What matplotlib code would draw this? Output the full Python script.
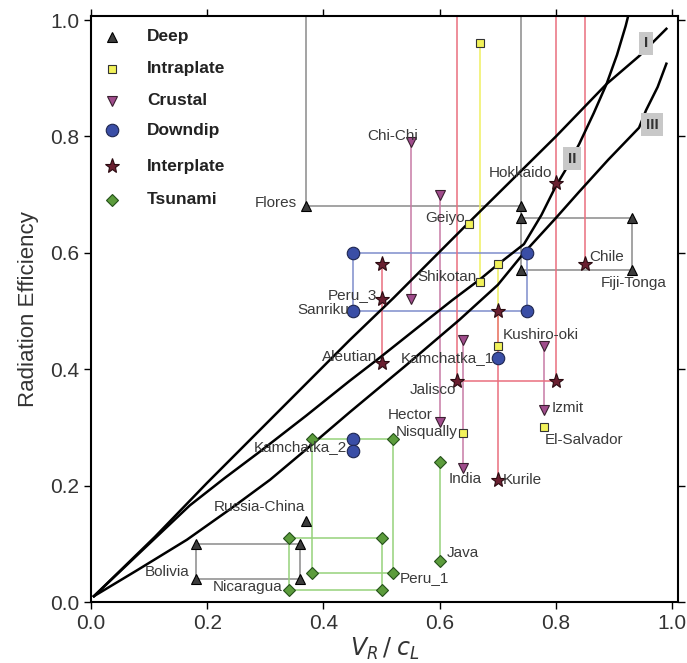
import matplotlib
matplotlib.use("Agg")
import matplotlib.pyplot as plt

plt.rcParams["font.family"] = ["Liberation Sans", "DejaVu Sans"]

TOP = 1.1  # estimates that run above the plot

curve1_x = [0.005, 0.11, 0.2, 0.29, 0.37, 0.445, 0.52, 0.648, 0.80, 0.887, 0.943, 0.99]
curve1_y = [0.01, 0.112, 0.205, 0.295, 0.375, 0.45, 0.522, 0.65, 0.80, 0.89, 0.938, 0.985]
curve2_x = [0.005, 0.10, 0.17, 0.23, 0.29, 0.37, 0.445, 0.497, 0.56, 0.622, 0.67, 0.70, 0.745,
            0.775, 0.80, 0.815, 0.84, 0.865, 0.887, 0.905, 0.92, 0.925]
curve2_y = [0.01, 0.10, 0.166, 0.213, 0.258, 0.32, 0.38, 0.42, 0.47, 0.519, 0.555, 0.58, 0.615,
            0.665, 0.715, 0.74, 0.787, 0.84, 0.89, 0.94, 0.99, 1.01]
curve3_x = [0.005, 0.08, 0.165, 0.24, 0.308, 0.37, 0.445, 0.54, 0.634, 0.70, 0.745,
            0.80, 0.84, 0.89, 0.943, 0.955, 0.975, 0.99]
curve3_y = [0.01, 0.055, 0.107, 0.16, 0.21, 0.262, 0.326, 0.405, 0.485, 0.545, 0.60,
            0.66, 0.705, 0.76, 0.815, 0.845, 0.885, 0.925]

# ---- earthquake estimates ----
deep_x = [0.37, 0.74, 0.74, 0.74, 0.93, 0.93, 0.37, 0.18, 0.18, 0.36, 0.36]
deep_y = [0.68, 0.68, 0.66, 0.57, 0.66, 0.57, 0.14, 0.10, 0.04, 0.10, 0.04]
deep_links = [(0.37, 0.68, 0.74, 0.68), (0.37, 0.68, 0.37, TOP), (0.74, 0.57, 0.74, TOP),
              (0.74, 0.66, 0.93, 0.66), (0.74, 0.57, 0.93, 0.57), (0.93, 0.57, 0.93, 0.66),
              (0.18, 0.10, 0.36, 0.10), (0.18, 0.04, 0.36, 0.04), (0.18, 0.04, 0.18, 0.10),
              (0.36, 0.04, 0.36, 0.10)]

intra_x = [0.67, 0.67, 0.65, 0.70, 0.70, 0.64, 0.78]
intra_y = [0.96, 0.55, 0.65, 0.58, 0.44, 0.29, 0.30]
intra_links = [(0.67, 0.96, 0.67, 0.55), (0.70, 0.58, 0.70, 0.44)]

crust_x = [0.55, 0.55, 0.60, 0.60, 0.64, 0.64, 0.78, 0.78]
crust_y = [0.79, 0.52, 0.70, 0.31, 0.45, 0.23, 0.44, 0.33]
crust_links = [(0.55, 0.79, 0.55, 0.52), (0.60, 0.70, 0.60, 0.31),
               (0.64, 0.45, 0.64, 0.23), (0.78, 0.44, 0.78, 0.33)]

down_x = [0.45, 0.75, 0.45, 0.75, 0.70, 0.45, 0.45]
down_y = [0.60, 0.60, 0.50, 0.50, 0.42, 0.28, 0.26]
down_links = [(0.45, 0.60, 0.75, 0.60), (0.45, 0.50, 0.75, 0.50),
              (0.45, 0.50, 0.45, 0.60), (0.75, 0.50, 0.75, 0.60)]

inter_x = [0.50, 0.50, 0.50, 0.63, 0.80, 0.80, 0.85, 0.70, 0.70]
inter_y = [0.58, 0.52, 0.41, 0.38, 0.38, 0.72, 0.58, 0.50, 0.21]
inter_links = [(0.50, 0.41, 0.50, 0.58), (0.63, 0.38, 0.63, TOP), (0.63, 0.38, 0.80, 0.38),
               (0.80, 0.38, 0.80, TOP), (0.85, 0.58, 0.85, TOP), (0.70, 0.21, 0.70, 0.50)]

tsu_x = [0.38, 0.52, 0.38, 0.52, 0.34, 0.50, 0.34, 0.50, 0.60, 0.60]
tsu_y = [0.28, 0.28, 0.05, 0.05, 0.11, 0.11, 0.02, 0.02, 0.24, 0.07]
tsu_links = [(0.38, 0.28, 0.52, 0.28), (0.38, 0.05, 0.52, 0.05), (0.38, 0.05, 0.38, 0.28),
             (0.52, 0.05, 0.52, 0.28), (0.34, 0.11, 0.50, 0.11), (0.34, 0.02, 0.50, 0.02),
             (0.34, 0.02, 0.34, 0.11), (0.50, 0.02, 0.50, 0.11), (0.60, 0.07, 0.60, 0.24)]

# event names and where their text sits
event_labels = [
    ("Flores", 0.354, 0.686, "right"), ("Chi-Chi", 0.562, 0.80, "right"),
    ("Hokkaido", 0.794, 0.737, "right"), ("Geiyo", 0.643, 0.66, "right"),
    ("Shikotan", 0.663, 0.558, "right"), ("Chile", 0.857, 0.593, "left"),
    ("Fiji-Tonga", 0.933, 0.548, "center"), ("Peru_3", 0.493, 0.527, "right"),
    ("Sanriku", 0.445, 0.502, "right"), ("Kushiro-oki", 0.708, 0.459, "left"),
    ("Aleutian", 0.493, 0.421, "right"), ("Kamchatka_1", 0.693, 0.419, "right"),
    ("Jalisco", 0.629, 0.364, "right"), ("Hector", 0.588, 0.321, "right"),
    ("Nisqually", 0.63, 0.292, "right"), ("India", 0.643, 0.211, "center"),
    ("Kurile", 0.708, 0.21, "left"), ("Izmit", 0.792, 0.333, "left"),
    ("El-Salvador", 0.849, 0.278, "center"), ("Kamchatka_2", 0.44, 0.266, "right"),
    ("Russia-China", 0.368, 0.163, "right"), ("Bolivia", 0.17, 0.052, "right"),
    ("Nicaragua", 0.33, 0.026, "right"), ("Peru_1", 0.531, 0.041, "left"),
    ("Java", 0.612, 0.084, "left"),
]

groups = [
    ("Deep", deep_x, deep_y, deep_links, "^", "#3c3c3c", "#000000", 7, "#8a8a8a"),
    ("Intraplate", intra_x, intra_y, intra_links, "s", "#f2f25a", "#333333", 6, "#f0f060"),
    ("Crustal", crust_x, crust_y, crust_links, "v", "#a04c8c", "#3a2030", 7, "#c77aa6"),
    ("Downdip", down_x, down_y, down_links, "o", "#3a4ea6", "#1e2650", 9, "#7f8dcc"),
    ("Interplate", inter_x, inter_y, inter_links, "*", "#6a1f30", "#2a0a10", 11, "#ea6f7e"),
    ("Tsunami", tsu_x, tsu_y, tsu_links, "D", "#5c9c3c", "#24501a", 6, "#96d27a"),
]

fig = plt.figure(figsize=(6.87, 6.63), dpi=100)
ax = fig.add_axes([0.1325, 0.092, 0.8544, 0.8839])
ax.set_xlim(0, 1.01)
ax.set_ylim(0, 1.007)

for name, xs, ys, links, mk, fc, ec, ms, lc in groups:
    for x0, y0, x1, y1 in links:
        ax.plot([x0, x1], [y0, y1], color=lc, lw=1.1, zorder=1)
    ax.plot(xs, ys, ls="none", marker=mk, ms=ms, mfc=fc, mec=ec, mew=0.8, zorder=4)

for cx, cy in [(curve1_x, curve1_y), (curve2_x, curve2_y), (curve3_x, curve3_y)]:
    ax.plot(cx, cy, color="black", lw=1.8, zorder=3, solid_joinstyle="round")

# curve tags
for tag, tx, ty in [("I", 0.955, 0.96), ("II", 0.828, 0.762), ("III", 0.966, 0.82)]:
    ax.text(tx, ty, tag, ha="center", va="center", fontsize=11, fontweight="bold",
            color="#333333", zorder=6,
            bbox=dict(boxstyle="square,pad=0.3", fc="#c8c8c8", ec="none"))

for name, tx, ty, ha in event_labels:
    ax.text(tx, ty, name, ha=ha, va="center", fontsize=11, color="#3a3a3a", zorder=5)

# legend drawn by hand
leg_y = [0.971, 0.916, 0.861, 0.811, 0.749, 0.691]
for (name, xs, ys, links, mk, fc, ec, ms, lc), ly in zip(groups, leg_y):
    ax.plot([0.036], [ly], ls="none", marker=mk, ms=ms, mfc=fc, mec=ec, mew=0.8, zorder=4)
    ax.text(0.096, ly, name, ha="left", va="center", fontsize=12.5,
            fontweight="bold", color="#222222")

ticks = [0.0, 0.2, 0.4, 0.6, 0.8, 1.0]
ax.set_xticks(ticks)
ax.set_yticks(ticks)
ax.set_xticklabels([f"{t:.1f}" for t in ticks])
ax.set_yticklabels([f"{t:.1f}" for t in ticks])
ax.tick_params(direction="out", top=True, right=True, length=5, width=1,
               labelsize=15, labelcolor="#333333")
for sp in ax.spines.values():
    sp.set_linewidth(1.5)

ax.set_ylabel("Radiation Efficiency", fontsize=16, color="#333333", labelpad=8)
ax.set_xlabel(r"$V_R\,/\;c_L$", fontsize=17, color="#333333", labelpad=2)

fig.savefig("out.png", dpi=100)
